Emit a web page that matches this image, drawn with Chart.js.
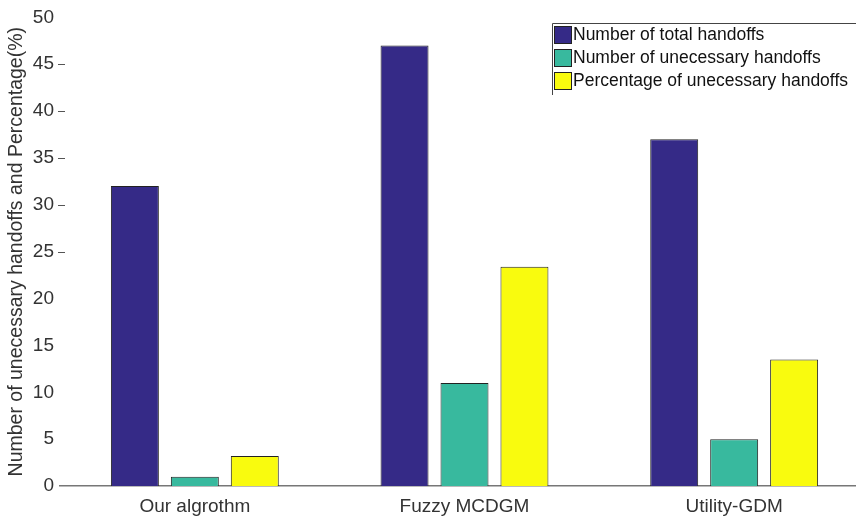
<!DOCTYPE html>
<html>
<head>
<meta charset="utf-8">
<script src="https://cdn.jsdelivr.net/npm/chart.js@4/dist/chart.umd.min.js"></script>
<style>
  html, body { margin: 0; padding: 0; background: #fff; overflow: hidden; }
  #wrap { position: relative; width: 872px; height: 520px; }
</style>
</head>
<body>
<div id="wrap"><canvas id="handoffChart"></canvas></div>
<script>
// data
const categories = ['Our algrothm', 'Fuzzy MCDGM', 'Utility-GDM'];
const totalHandoffs = [32, 47, 37];
const unnecessaryHandoffs = [1, 11, 5];
const unnecessaryPercent = [3.2, 23.4, 13.5];
const seriesNames = [
  'Number of total handoffs',
  'Number of unecessary handoffs',
  'Percentage of unecessary handoffs'
];
const yTicksMarked = [25, 30, 35, 40, 45];

const textColor = '#333';
const fontFamily = "'Liberation Sans', Arial, sans-serif";

// legend drawn inside the plot, top right (matlab style box)
const boxLegend = {
  id: 'boxLegend',
  afterDraw(chart) {
    const ctx = chart.ctx;
    const x = 552, y = 23, rowH = 23;
    ctx.save();
    ctx.fillStyle = '#fff';
    ctx.fillRect(x, y, 330, 72);
    ctx.strokeStyle = '#444';
    ctx.lineWidth = 1;
    ctx.beginPath();
    ctx.moveTo(x + 0.5, y + 72);
    ctx.lineTo(x + 0.5, y + 0.5);
    ctx.lineTo(x + 330, y + 0.5);
    ctx.stroke();
    ctx.font = '17.5px ' + fontFamily;
    ctx.textBaseline = 'middle';
    chart.data.datasets.forEach((ds, i) => {
      const ry = y + 3 + i * rowH;
      ctx.fillStyle = ds.backgroundColor;
      ctx.fillRect(x + 2, ry, 17, 17);
      ctx.strokeStyle = '#222';
      ctx.strokeRect(x + 2.5, ry + 0.5, 17, 17);
      ctx.fillStyle = '#111';
      ctx.fillText(ds.label, x + 21, ry + 9.5);
    });
    ctx.restore();
  }
};

// short inward tick marks on the y axis
const innerTicks = {
  id: 'innerTicks',
  afterDraw(chart) {
    const ctx = chart.ctx;
    const yScale = chart.scales.y;
    const left = chart.chartArea.left;
    ctx.save();
    ctx.strokeStyle = '#555';
    ctx.lineWidth = 1;
    yTicksMarked.forEach(v => {
      const py = Math.round(yScale.getPixelForValue(v)) + 0.5;
      ctx.beginPath();
      ctx.moveTo(left - 2, py);
      ctx.lineTo(left + 5, py);
      ctx.stroke();
    });
    ctx.restore();
  }
};

const ctx = document.getElementById('handoffChart').getContext('2d');
new Chart(ctx, {
  type: 'bar',
  data: {
    labels: categories,
    datasets: [
      { label: seriesNames[0], data: totalHandoffs, backgroundColor: '#352a87' },
      { label: seriesNames[1], data: unnecessaryHandoffs, backgroundColor: '#38b99e' },
      { label: seriesNames[2], data: unnecessaryPercent, backgroundColor: '#f9fb0e' }
    ].map(d => Object.assign(d, {
      borderColor: '#222',
      borderWidth: 1,
      borderSkipped: 'bottom',
      categoryPercentage: 0.667,
      barPercentage: 0.8
    }))
  },
  options: {
    responsive: true,
    maintainAspectRatio: false,
    animation: false,
    layout: { padding: { top: 12, right: 3, bottom: 0, left: 0 } },
    plugins: {
      legend: { display: false },
      tooltip: { enabled: false }
    },
    scales: {
      x: {
        grid: { display: false },
        border: { color: '#777', width: 1.5 },
        ticks: {
          color: textColor,
          padding: 1,
          font: { family: fontFamily, size: 19 }
        },
        afterFit: s => { s.height = 34; }
      },
      y: {
        min: 0,
        max: 50,
        grid: { display: false, drawTicks: false },
        border: { display: false },
        ticks: {
          stepSize: 5,
          color: textColor,
          padding: 6,
          font: { family: fontFamily, size: 19 }
        },
        title: {
          display: true,
          text: 'Number of unecessary handoffs and Percentage(%)',
          color: textColor,
          padding: { top: 5, bottom: 0 },
          font: { family: fontFamily, size: 19.5 }
        },
        afterFit: s => { s.width = 60; }
      }
    }
  },
  plugins: [innerTicks, boxLegend]
});
</script>
</body>
</html>
